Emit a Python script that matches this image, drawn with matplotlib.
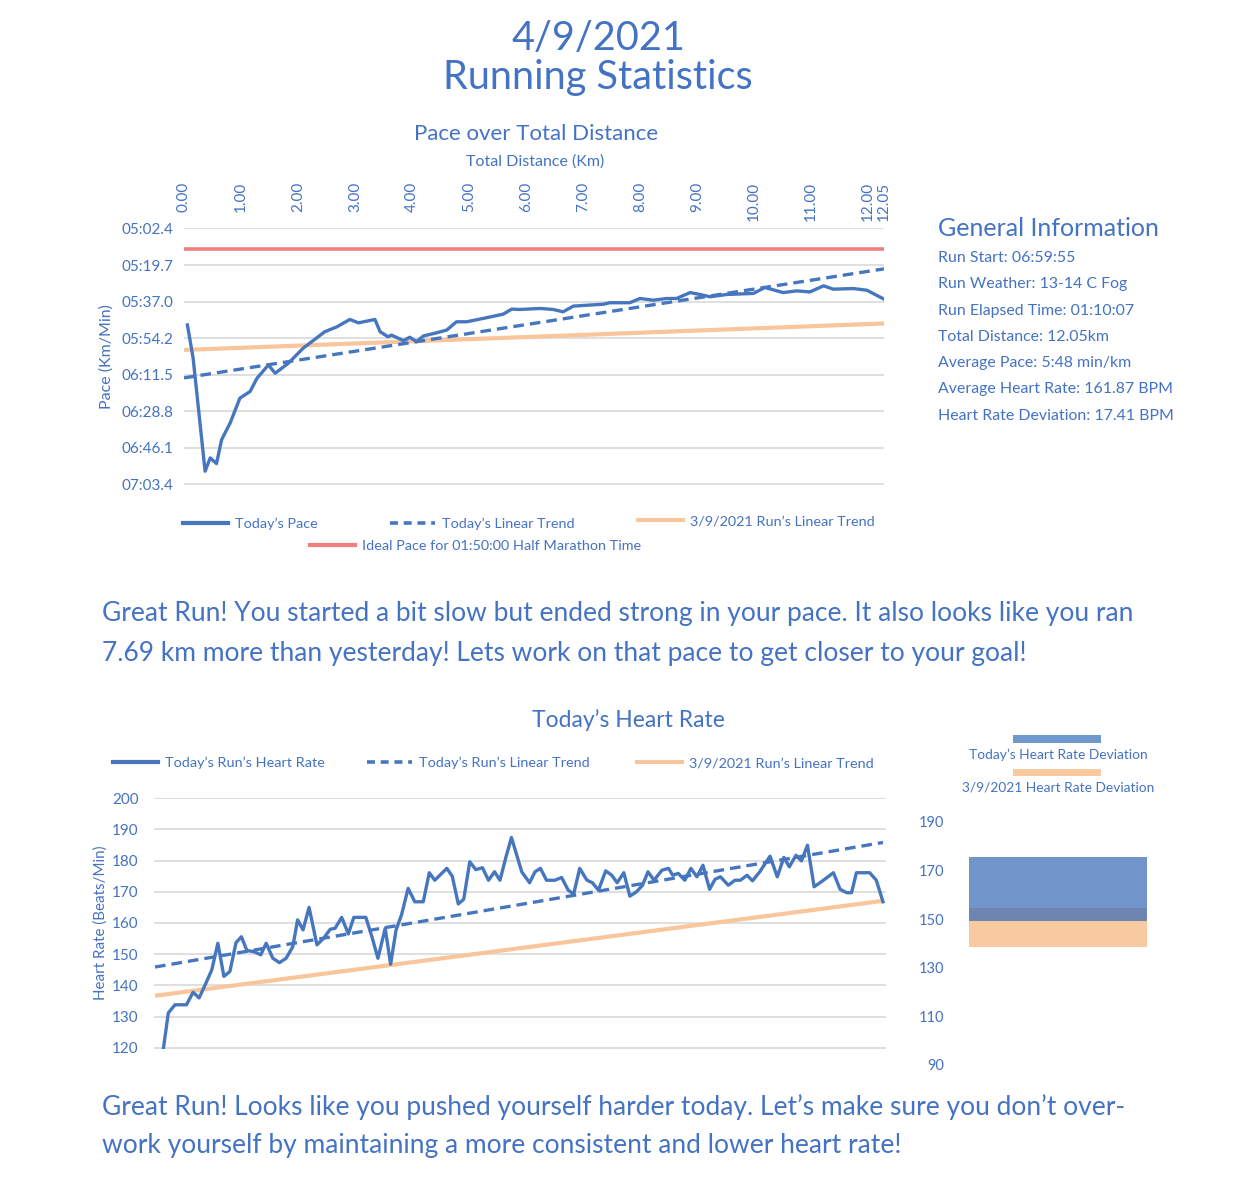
import numpy as np
import matplotlib.pyplot as plt
from matplotlib.lines import Line2D
from matplotlib.patches import Rectangle
from matplotlib.ticker import FuncFormatter

plt.rcParams['font.family'] = ['Lato', 'DejaVu Sans']

#%% Data
# pace over distance (km, seconds per km)
pace_km = [0.06, 0.16, 0.37, 0.46, 0.57, 0.66, 0.72, 0.81, 0.98, 1.16,
           1.28, 1.48, 1.60, 1.83, 2.09, 2.47, 2.68, 2.91, 3.06, 3.35,
           3.44, 3.58, 3.64, 3.85, 3.96, 4.08, 4.20, 4.43, 4.61, 4.78,
           4.96, 5.25, 5.60, 5.75, 5.89, 6.25, 6.48, 6.65, 6.83, 7.36,
           7.47, 7.82, 8.00, 8.23, 8.47, 8.64, 8.88, 9.05, 9.23, 9.52,
           9.99, 10.19, 10.51, 10.75, 10.98, 11.22, 11.39, 11.74, 11.98, 12.05]
pace_sec = [348.0, 363.7, 417.1, 410.8, 413.5, 402.2, 399.0, 394.3, 382.6, 379.4,
            373.2, 366.9, 370.8, 366.1, 359.0, 351.2, 348.9, 345.4, 347.0, 345.4,
            351.2, 353.6, 352.8, 355.4, 353.8, 355.9, 353.2, 351.7, 350.4, 346.5,
            346.5, 344.9, 342.9, 340.5, 340.7, 340.2, 340.7, 341.8, 339.1, 338.2,
            337.5, 337.5, 335.5, 336.3, 335.5, 335.5, 332.7, 333.6, 334.7, 333.6,
            333.1, 330.3, 332.7, 331.9, 332.4, 329.5, 331.1, 330.8, 331.6, 335.8]
trend_km = [0.0, 12.05]
pace_trend_today = [373.0, 321.5]
pace_trend_prev = [359.8, 347.3]
ideal_pace = 312.0

dist_ticks = [0, 1, 2, 3, 4, 5, 6, 7, 8, 9, 10, 11, 12, 12.05]
pace_ticks = [302.4, 319.68, 336.96, 354.24, 371.52, 388.8, 406.08, 423.36]

# heart rate over distance
hr_km = [0.14, 0.22, 0.33, 0.52, 0.63, 0.73, 0.83, 0.94, 1.04, 1.14,
         1.24, 1.34, 1.43, 1.52, 1.64, 1.75, 1.84, 1.95, 2.06, 2.17,
         2.28, 2.36, 2.45, 2.55, 2.68, 2.79, 2.90, 2.98, 3.09, 3.20,
         3.29, 3.49, 3.59, 3.69, 3.81, 3.90, 3.99, 4.08, 4.19, 4.30,
         4.44, 4.54, 4.63, 4.83, 4.92, 5.02, 5.11, 5.21, 5.31, 5.42,
         5.52, 5.62, 5.71, 5.81, 5.90,
         6.07, 6.20, 6.29, 6.38, 6.48, 6.62, 6.73, 6.84, 6.93, 7.03,
         7.15, 7.24, 7.34, 7.46, 7.56, 7.65, 7.76, 7.86, 7.97, 8.07,
         8.16, 8.26, 8.39, 8.50, 8.57, 8.66, 8.77, 8.87, 8.97, 9.07,
         9.18, 9.27, 9.36, 9.49, 9.60, 9.69, 9.80, 9.89, 10.01, 10.18,
         10.30, 10.41, 10.50, 10.61, 10.70, 10.80, 10.91, 11.03, 11.23, 11.34,
         11.45, 11.53, 11.61, 11.83, 11.94, 12.05]
hr_bpm = [120.0, 131.2, 133.8, 133.8, 137.8, 136.0, 140.2, 145.0, 153.5, 142.9,
          144.5, 153.7, 155.6, 151.2, 150.8, 149.8, 153.5, 148.7, 147.3, 148.7,
          152.4, 161.0, 157.8, 165.0, 153.0, 155.1, 158.0, 158.3, 161.8, 156.5,
          161.8, 161.8, 155.6, 148.7, 158.3, 146.8, 157.8, 162.6, 171.1, 166.8,
          166.8, 176.1, 173.7, 177.5, 175.0, 166.1, 167.6, 179.6, 177.1, 177.7,
          173.7, 176.4, 173.7, 181.2, 187.4,
          176.4, 172.9, 176.4, 177.5, 173.7, 173.7, 174.6, 170.5, 169.3, 177.5,
          173.7, 172.9, 170.5, 176.7, 175.3, 172.9, 176.1, 168.6, 170.0, 172.1,
          176.4, 173.7, 176.9, 177.5, 175.3, 175.9, 173.7, 177.5, 174.8, 178.5,
          170.8, 174.0, 174.8, 172.1, 173.7, 173.7, 175.3, 173.5, 176.4, 181.4,
          174.8, 181.0, 178.0, 181.7, 179.9, 184.9, 171.6, 173.2, 176.1, 170.8,
          169.7, 169.7, 176.1, 176.1, 173.7, 166.8]
hr_trend_today = [145.9, 185.8]
hr_trend_prev = [136.7, 167.1]
hr_ticks = [120, 130, 140, 150, 160, 170, 180, 190, 200]

# heart rate deviation bands (low, high)
dev_today = (149.2, 175.6)
dev_prev = (138.7, 154.4)
dev_ticks = [90, 110, 130, 150, 170, 190]

info_title = 'General Information'
info_lines = ['Run Start: 06:59:55',
              'Run Weather: 13-14 C Fog',
              'Run Elapsed Time: 01:10:07',
              'Total Distance: 12.05km',
              'Average Pace: 5:48 min/km',
              'Average Heart Rate: 161.87 BPM',
              'Heart Rate Deviation: 17.41 BPM']
note_pace = ['Great Run! You started a bit slow but ended strong in your pace. It also looks like you ran',
             '7.69 km more than yesterday! Lets work on that pace to get closer to your goal!']
note_hr = ['Great Run! Looks like you pushed yourself harder today. Let\u2019s make sure you don\u2019t over-',
           'work yourself by maintaining a more consistent and lower heart rate!']

#%% Styles
blue = '#4677BE'
txt = '#4472C4'
red = '#EF7F7F'
orange = '#F9C69B'
grid_c = '#D9D9D9'

W, H = 1241, 1194
fig = plt.figure(figsize=(W / 100, H / 100), dpi=100)


def fx(px):
    return px / W


def fy(py):
    return 1 - py / H


def add_legend_item(handle, label, x, y, size):
    fig.legend(handles=[handle], labels=[label], loc='center left',
               bbox_to_anchor=(fx(x), fy(y)), frameon=False, borderpad=0,
               borderaxespad=0, handlelength=3.1, handletextpad=0.5,
               fontsize=size, labelcolor=txt)


# stretch the last 0.05 km like the category axis of the original
def _fwd(x):
    x = np.asarray(x, dtype=float)
    return np.where(x <= 12, x, 12 + (x - 12) * 5.6)


def _inv(x):
    x = np.asarray(x, dtype=float)
    return np.where(x <= 12, x, 12 + (x - 12) / 5.6)


#%% Titles
fig.text(0.482, fy(38), '4/9/2021', ha='center', va='center', fontsize=28.5, color=txt)
fig.text(0.482, fy(77), 'Running Statistics', ha='center', va='center', fontsize=28.5, color=txt)

#%% Pace chart
ax1 = fig.add_axes([fx(184), fy(485), 700 / W, 257 / H])
ax1.set_xscale('function', functions=(_fwd, _inv))
ax1.plot(trend_km, [ideal_pace, ideal_pace], color=red, lw=2.6, solid_capstyle='butt')
ax1.plot(trend_km, pace_trend_prev, color=orange, lw=3.0, solid_capstyle='butt')
ax1.plot(trend_km, pace_trend_today, color=blue, lw=2.4, dashes=(3.2, 1.8))
ax1.plot(pace_km, pace_sec, color=blue, lw=2.4)
ax1.set_xlim(0, 12.05)
ax1.set_ylim(423.6, 302.2)
ax1.set_yticks(pace_ticks)
ax1.yaxis.set_major_formatter(FuncFormatter(lambda v, p: f'{int(v // 60):02d}:{v % 60:04.1f}'))
ax1.set_xticks(dist_ticks)
ax1.set_xticklabels([f'{t:.2f}' for t in dist_ticks])
ax1.xaxis.set_minor_locator(plt.NullLocator())
ax1.tick_params(axis='x', top=True, labeltop=True, bottom=False, labelbottom=False,
                labelrotation=90, length=0, pad=33, labelsize=11, labelcolor=txt)
for lab in ax1.get_xticklabels():
    lab.set_va('top')
ax1.tick_params(axis='y', length=0, pad=8, labelsize=11, labelcolor=txt)
ax1.grid(axis='y', color=grid_c, lw=1.2)
ax1.set_axisbelow(True)
for s in ax1.spines.values():
    s.set_visible(False)
ax1.set_ylabel('Pace (Km/Min)', fontsize=11.5, color=txt, labelpad=5)
fig.text(fx(535), fy(162), 'Total Distance (Km)', ha='center', va='center', fontsize=11.5, color=txt)
fig.text(fx(536), fy(134), 'Pace over Total Distance', ha='center', va='center', fontsize=16, color=txt)

add_legend_item(Line2D([], [], color=blue, lw=3), 'Today\u2019s Pace', 183, 524, 10.4)
add_legend_item(Line2D([], [], color=blue, lw=2.6, dashes=(2.2, 1.6)), 'Today\u2019s Linear Trend', 390, 524, 10.4)
add_legend_item(Line2D([], [], color=orange, lw=3), '3/9/2021 Run\u2019s Linear Trend', 638, 521, 10.4)
add_legend_item(Line2D([], [], color=red, lw=3), 'Ideal Pace for 01:50:00 Half Marathon Time', 310, 546, 10.4)

#%% General information
fig.text(fx(938), fy(229), info_title, ha='left', va='center', fontsize=18, color=txt)
for i, line in enumerate(info_lines):
    fig.text(fx(938), fy(258 + 26.3 * i), line, ha='left', va='center', fontsize=11.4, color=txt)

#%% Notes
for i, line in enumerate(note_pace):
    fig.text(fx(102), fy(614 + 39 * i), line, ha='left', va='center', fontsize=19, color=txt)
for i, line in enumerate(note_hr):
    fig.text(fx(102), fy(1107 + 38 * i), line, ha='left', va='center', fontsize=19, color=txt)

#%% Heart rate chart
ax2 = fig.add_axes([fx(154), fy(1048.5), 732 / W, 251 / H])
ax2.plot(trend_km, hr_trend_prev, color=orange, lw=3.0, solid_capstyle='butt')
ax2.plot(trend_km, hr_trend_today, color=blue, lw=2.4, dashes=(3.2, 1.8))
ax2.plot(hr_km, hr_bpm, color=blue, lw=2.4)
ax2.set_xlim(-0.017, 12.1)
ax2.set_ylim(119.8, 200.2)
ax2.set_yticks(hr_ticks)
ax2.set_xticks([])
ax2.tick_params(axis='y', length=0, pad=11, labelsize=11, labelcolor=txt)
ax2.grid(axis='y', color=grid_c, lw=1.2)
ax2.set_axisbelow(True)
for s in ax2.spines.values():
    s.set_visible(False)
ax2.set_ylabel('Heart Rate (Beats/Min)', fontsize=10.9, color=txt, labelpad=3)
fig.text(fx(628), fy(720), 'Today\u2019s Heart Rate', ha='center', va='center', fontsize=16.5, color=txt)

add_legend_item(Line2D([], [], color=blue, lw=3), 'Today\u2019s Run\u2019s Heart Rate', 113, 763, 10.4)
add_legend_item(Line2D([], [], color=blue, lw=2.6, dashes=(2.2, 1.6)), 'Today\u2019s Run\u2019s Linear Trend', 367, 763, 10.4)
add_legend_item(Line2D([], [], color=orange, lw=3), '3/9/2021 Run\u2019s Linear Trend', 637, 763, 10.4)

#%% Deviation chart
ax3 = fig.add_axes([fx(955), fy(1065), 206 / W, 243.3 / H])
ax3.bar(0, dev_prev[1] - dev_prev[0], bottom=dev_prev[0], width=0.864, color='#F9C9A0')
ax3.bar(0, dev_today[1] - dev_today[0], bottom=dev_today[0], width=0.864, color='#3C6CB8', alpha=0.73)
ax3.set_xlim(-0.5, 0.5)
ax3.set_ylim(90, 190)
ax3.set_yticks(dev_ticks)
ax3.set_xticks([])
ax3.tick_params(axis='y', length=0, pad=8, labelsize=10.5, labelcolor=txt)
for s in ax3.spines.values():
    s.set_visible(False)

fig.add_artist(Rectangle((fx(1013), fy(743)), 88 / W, 8 / H, transform=fig.transFigure,
                         color='#6E98CE', lw=0))
fig.text(fx(1058), fy(755), 'Today\u2019s Heart Rate Deviation', ha='center', va='center', fontsize=9.9, color=txt)
fig.add_artist(Rectangle((fx(1013), fy(776)), 88 / W, 7 / H, transform=fig.transFigure,
                         color='#F9C9A0', lw=0))
fig.text(fx(1058), fy(787), '3/9/2021 Heart Rate Deviation', ha='center', va='center', fontsize=9.9, color=txt)

fig.savefig('out.png', dpi=100, facecolor='white')
